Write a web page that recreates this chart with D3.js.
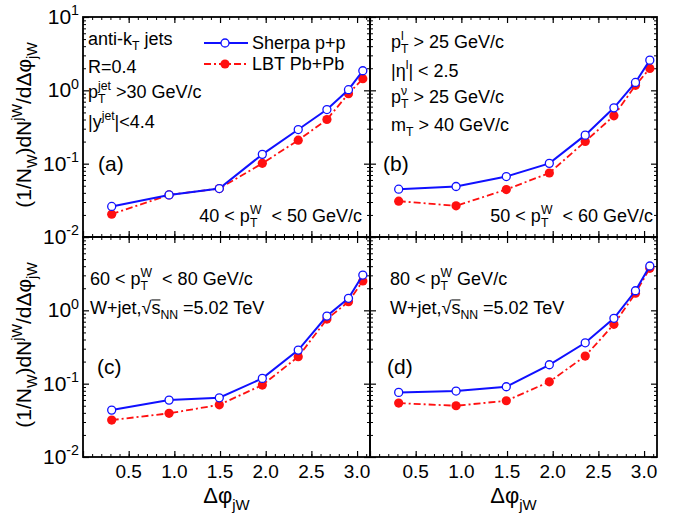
<!DOCTYPE html>
<html lang="en">
<head>
<meta charset="UTF-8">
<title>W+jet azimuthal correlation</title>
<script src="https://d3js.org/d3.v7.min.js"></script>
<style>
    body { margin: 0; background: #fff; }
    svg text { white-space: pre; }
</style>
</head>
<body>
<div id="chart"></div>
<script>
    // bin centres in delta phi
    const dphi = [0.314, 0.942, 1.492, 1.963, 2.356, 2.670, 2.906, 3.063];

    const sherpaA = [0.0261, 0.0375, 0.0458, 0.134, 0.292, 0.547, 1.02, 1.85];
    const lbtA    = [0.0205, 0.0375, 0.0458, 0.101, 0.209, 0.400, 0.90, 1.44];
    const sherpaB = [0.0449, 0.0488, 0.0667, 0.101, 0.245, 0.577, 1.28, 2.58];
    const lbtB    = [0.0308, 0.0266, 0.0444, 0.0746, 0.201, 0.449, 1.17, 1.99];
    const sherpaC = [0.0436, 0.0597, 0.0642, 0.118, 0.287, 0.836, 1.46, 3.03];
    const lbtC    = [0.0319, 0.0394, 0.0515, 0.0957, 0.233, 0.760, 1.31, 2.51];
    const sherpaD = [0.0760, 0.0793, 0.0908, 0.181, 0.361, 0.778, 1.85, 4.02];
    const lbtD    = [0.0543, 0.0500, 0.0585, 0.106, 0.238, 0.644, 1.71, 3.74];

    const xMajor = [0, 0.5, 1.0, 1.5, 2.0, 2.5, 3.0];
    const xMinor = d3.range(1, 32).map(i => i / 10);
    const xLabels = ["0.5", "1.0", "1.5", "2.0", "2.5", "3.0"];
    const yMajor = [0.01, 0.1, 1, 10];
    const yExp = ["-2", "-1", "0", "1"];

    const W = 686, H = 513;
    const panelW = 287, panelH = 220;
    const blue = "#1010ff", red = "#ff1010";

    const svg = d3.select("#chart").append("svg")
        .attr("width", W).attr("height", H)
        .style("font-family", "'Liberation Sans', Arial, sans-serif");

    // text with sub/superscripts: parts are strings or {sub, sup, over}
    function rich(parent, x, y, parts, size, anchor) {
        const g = parent.append("g");
        let cx = 0;
        parts.forEach(p => {
            if (typeof p === "string") {
                const t = g.append("text").attr("x", cx).attr("y", 0)
                    .attr("font-size", size).text(p);
                cx += t.node().getComputedTextLength();
            } else if (p.over) {
                const t = g.append("text").attr("x", cx).attr("y", 0)
                    .attr("font-size", size).text(p.over);
                const w = t.node().getComputedTextLength();
                g.append("line").attr("x1", cx).attr("x2", cx + w)
                    .attr("y1", -size * 0.78).attr("y2", -size * 0.78)
                    .attr("stroke", "#000").attr("stroke-width", 1);
                cx += w;
            } else {
                let w = 0;
                if (p.sub) {
                    const t = g.append("text").attr("x", cx).attr("y", size * 0.3)
                        .attr("font-size", size * 0.68).text(p.sub);
                    w = Math.max(w, t.node().getComputedTextLength());
                }
                if (p.sup) {
                    const t = g.append("text").attr("x", cx).attr("y", -size * 0.42)
                        .attr("font-size", size * 0.68).text(p.sup);
                    w = Math.max(w, t.node().getComputedTextLength());
                }
                cx += w;
            }
        });
        let dx = 0;
        if (anchor === "middle") dx = -cx / 2;
        if (anchor === "end") dx = -cx;
        g.attr("transform", `translate(${x + dx},${y})`);
        return g;
    }

    const panels = [
        {left: 83, top: 17, sherpa: sherpaA, lbt: lbtA, col: 0, row: 0},
        {left: 370, top: 17, sherpa: sherpaB, lbt: lbtB, col: 1, row: 0},
        {left: 83, top: 237, sherpa: sherpaC, lbt: lbtC, col: 0, row: 1},
        {left: 370, top: 237, sherpa: sherpaD, lbt: lbtD, col: 1, row: 1}
    ];

    panels.forEach(p => {
        const x = d3.scaleLinear().domain([0, Math.PI]).range([p.left, p.left + panelW]);
        const y = d3.scaleLog().domain([0.01, 10]).range([p.top + panelH, p.top]);
        const yMinor = [];
        [0.01, 0.1, 1].forEach(d => { for (let k = 2; k <= 9; k++) yMinor.push(d * k); });

        const g = svg.append("g");
        const axes = [
            [d3.axisBottom(x), `translate(0,${p.top + panelH})`, xMajor, xMinor],
            [d3.axisTop(x), `translate(0,${p.top})`, xMajor, xMinor],
            [d3.axisLeft(y), `translate(${p.left},0)`, yMajor, yMinor],
            [d3.axisRight(y), `translate(${p.left + panelW},0)`, yMajor, yMinor]
        ];
        axes.forEach(([ax, tr, major, minor]) => {
            g.append("g").attr("transform", tr)
                .call(ax.tickValues(major).tickSize(-6).tickSizeOuter(0).tickFormat(""))
                .call(s => s.select(".domain").remove())
                .call(s => s.selectAll("line").attr("stroke-width", 1.2));
            g.append("g").attr("transform", tr)
                .call(ax.tickValues(minor).tickSize(-3).tickSizeOuter(0).tickFormat(""))
                .call(s => s.select(".domain").remove())
                .call(s => s.selectAll("line").attr("stroke-width", 1));
        });

        g.append("rect").attr("x", p.left).attr("y", p.top)
            .attr("width", panelW).attr("height", panelH)
            .attr("fill", "none").attr("stroke", "#000").attr("stroke-width", 1.8);

        // y tick labels on left column
        if (p.col === 0) {
            yMajor.forEach((v, i) => {
                if (p.row === 1 && v === 10) return;
                rich(svg, p.left - 4, y(v) + 7, ["10", {sup: yExp[i]}], 21, "end");
            });
            const yt = svg.append("g")
                .attr("transform", `translate(31,${p.top + panelH / 2 - 2}) rotate(-90)`);
            rich(yt, 0, 0, ["(1/N", {sub: "W"}, ")dN", {sup: "jW"}, "/dΔφ", {sub: "jW"}], 21, "middle");
        }
        // x tick labels on bottom row
        if (p.row === 1) {
            xLabels.forEach(l => {
                svg.append("text").attr("x", x(+l)).attr("y", 478)
                    .attr("text-anchor", "middle").attr("font-size", 19).text(l);
            });
            rich(svg, p.left + panelW / 2, 503, ["Δφ", {sub: "jW"}], 22, "middle");
        }

        const line = d3.line().x((d, i) => x(dphi[i])).y(d => y(d));
        g.append("path").datum(p.lbt).attr("d", line)
            .attr("fill", "none").attr("stroke", red).attr("stroke-width", 1.8)
            .attr("stroke-dasharray", "7,3,2,3");
        g.selectAll(".lbt").data(p.lbt).join("circle")
            .attr("cx", (d, i) => x(dphi[i])).attr("cy", d => y(d))
            .attr("r", 4.6).attr("fill", red);
        g.append("path").datum(p.sherpa).attr("d", line)
            .attr("fill", "none").attr("stroke", blue).attr("stroke-width", 2);
        g.selectAll(".sherpa").data(p.sherpa).join("circle")
            .attr("cx", (d, i) => x(dphi[i])).attr("cy", d => y(d))
            .attr("r", 4).attr("fill", "#fff").attr("stroke", blue).attr("stroke-width", 1.3);
    });

    const fs = 18;
    // panel (a)
    rich(svg, 88, 45, ["anti-k", {sub: "T"}, " jets"], fs, "start");
    rich(svg, 88, 73, ["R=0.4"], fs, "start");
    rich(svg, 88, 98, ["p", {sub: "T", sup: "jet"}, " >30 GeV/c"], fs, "start");
    rich(svg, 88, 128, ["|y", {sup: "jet"}, "|<4.4"], fs, "start");
    rich(svg, 98, 171, ["(a)"], 21, "start");
    rich(svg, 362, 222, ["40 < p", {sub: "T", sup: "W"}, "  < 50 GeV/c"], fs, "end");

    // legend
    svg.append("line").attr("x1", 204).attr("x2", 248).attr("y1", 43).attr("y2", 43)
        .attr("stroke", blue).attr("stroke-width", 2);
    svg.append("circle").attr("cx", 225).attr("cy", 43).attr("r", 4)
        .attr("fill", "#fff").attr("stroke", blue).attr("stroke-width", 1.3);
    svg.append("line").attr("x1", 204).attr("x2", 248).attr("y1", 64).attr("y2", 64)
        .attr("stroke", red).attr("stroke-width", 1.8).attr("stroke-dasharray", "7,3,2,3");
    svg.append("circle").attr("cx", 225).attr("cy", 64).attr("r", 4.6).attr("fill", red);
    rich(svg, 252, 49, ["Sherpa p+p"], fs, "start");
    rich(svg, 252, 70, ["LBT Pb+Pb"], fs, "start");

    // panel (b)
    rich(svg, 391, 48, ["p", {sub: "T", sup: "l"}, " > 25 GeV/c"], fs, "start");
    rich(svg, 391, 77, ["|η", {sup: "l"}, "| < 2.5"], fs, "start");
    rich(svg, 391, 103, ["p", {sub: "T", sup: "ν"}, " > 25 GeV/c"], fs, "start");
    rich(svg, 391, 131, ["m", {sub: "T"}, " > 40 GeV/c"], fs, "start");
    rich(svg, 383, 171, ["(b)"], 21, "start");
    rich(svg, 653, 222, ["50 < p", {sub: "T", sup: "W"}, "  < 60 GeV/c"], fs, "end");

    // panel (c)
    rich(svg, 90, 285, ["60 < p", {sub: "T", sup: "W"}, "  < 80 GeV/c"], fs, "start");
    rich(svg, 90, 314, ["W+jet,√", {over: "s"}, {sub: "NN"}, " =5.02 TeV"], fs, "start");
    rich(svg, 97, 374, ["(c)"], 21, "start");

    // panel (d)
    rich(svg, 390, 285, ["80 < p", {sub: "T", sup: "W"}, " GeV/c"], fs, "start");
    rich(svg, 390, 314, ["W+jet,√", {over: "s"}, {sub: "NN"}, " =5.02 TeV"], fs, "start");
    rich(svg, 387, 374, ["(d)"], 21, "start");
</script>
</body>
</html>
